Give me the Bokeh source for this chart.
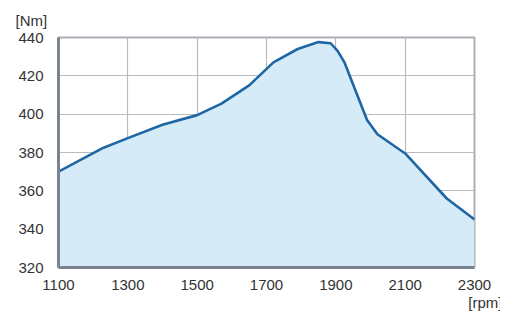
from bokeh.plotting import figure
from bokeh.models import Range1d, FixedTicker, Title
from bokeh.embed import file_html
from bokeh.resources import INLINE

rpm = [1100, 1230, 1300, 1400, 1500, 1570, 1650, 1720, 1790, 1850, 1885, 1905, 1925, 1990, 2020, 2100, 2220, 2300]
torque = [370, 382.5, 387.5, 394.5, 399.5, 405.5, 415, 427, 434, 437.6, 437, 433, 427, 397, 389.5, 379.5, 356, 345]
x_ticks = [1100, 1300, 1500, 1700, 1900, 2100, 2300]
y_ticks = [320, 340, 360, 380, 400, 420, 440]

FONT = "Liberation Sans"
TXT = "#333333"

p = figure(width=500, height=322, output_backend="svg", toolbar_location=None,
           x_range=Range1d(1100, 2300), y_range=Range1d(320, 440),
           min_border_left=58, min_border_right=26, min_border_top=36, min_border_bottom=55,
           outline_line_color="#a9adb5", outline_line_width=2)

p.varea(x=rpm, y1=[320] * len(rpm), y2=torque, fill_color="#d5ebf7", fill_alpha=1)
p.line(rpm, torque, line_color="#1f67a3", line_width=2.6)

for ax, ticks in ((p.xaxis, x_ticks), (p.yaxis, y_ticks)):
    ax.ticker = FixedTicker(ticks=ticks)
    ax.major_tick_line_color = None
    ax.minor_tick_line_color = None
    ax.axis_line_color = "#7b8391"
    ax.axis_line_width = 3
    ax.major_label_text_font = FONT
    ax.major_label_text_font_size = "15px"
    ax.major_label_text_color = TXT
    ax.major_label_standoff = 9
p.xaxis.major_label_standoff = 6

p.xgrid.ticker = FixedTicker(ticks=x_ticks)
p.ygrid.ticker = FixedTicker(ticks=y_ticks)
p.grid.grid_line_color = "#bcbcbc"
p.grid.grid_line_width = 1.2

p.add_layout(Title(text="[Nm]", align="left", offset=-43, text_font=FONT, text_font_size="15px",
                   text_color=TXT, text_font_style="normal", text_line_height=1.0, standoff=18), "above")
p.add_layout(Title(text="[rpm]", align="right", offset=-28, text_font=FONT, text_font_size="15px",
                   text_color=TXT, text_font_style="normal", text_line_height=1.0, standoff=0,
                   vertical_align="middle"), "below")

open("out.html", "w").write(file_html(p, INLINE))
